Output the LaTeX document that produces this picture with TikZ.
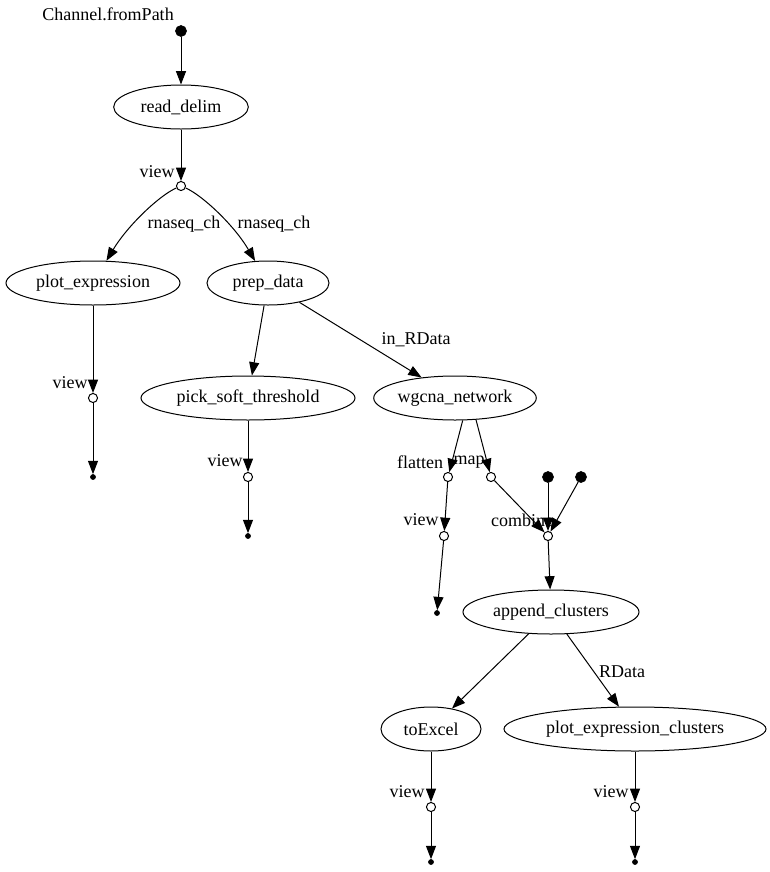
\documentclass[tikz,border=0pt]{standalone}
\usepackage{fontspec}
\setmainfont{Liberation Serif}
\usetikzlibrary{arrows.meta,positioning,shapes.geometric}

\begin{document}
\begin{tikzpicture}[
  x=0.75pt, y=-0.75pt, line width=0.75pt,
  proc/.style={draw, ellipse, inner sep=0pt, minimum height=33pt,
               font=\fontsize{13.5}{16}\selectfont},
  op/.style={draw, circle, fill=white, inner sep=0pt, minimum size=6.8pt},
  src/.style={draw, circle, fill=black, inner sep=0pt, minimum size=8pt},
  sink/.style={draw, circle, fill=black, inner sep=0pt, minimum size=3.5pt},
  lbl/.style={inner sep=0pt, font=\fontsize{13.5}{16}\selectfont},
  arrow/.style={-{Triangle[length=10pt, width=7.5pt]}}
]
  \useasboundingbox (0,0) rectangle (770,872);

  % processes
  \node[src] (fromPath) at (181,31) {};
  \node[proc, minimum width=101pt] (readDelim) at (181,107) {read\_delim};
  \node[op] (view1) at (181,186) {};
  \node[proc, minimum width=130.5pt] (plotExpr) at (93,283) {plot\_expression};
  \node[proc, minimum width=91.5pt] (prepData) at (268,283) {prep\_data};
  \node[op] (view2) at (93,398) {};
  \node[sink] (end2) at (93,477) {};
  \node[proc, minimum width=160.5pt] (pickSoft) at (248,398) {pick\_soft\_threshold};
  \node[op] (view3) at (248,477) {};
  \node[sink] (end3) at (248,536) {};
  \node[proc, minimum width=114pt] (wgcna) at (455,398) {wgcna\_network};
  \node[op] (flatten) at (448,477) {};
  \node[op] (map) at (491,477) {};
  \node[src] (srcA) at (548,477) {};
  \node[src] (srcB) at (581,477) {};
  \node[op] (view4) at (444,536) {};
  \node[sink] (end4) at (437,613) {};
  \node[op] (combine) at (548,536) {};
  \node[proc, minimum width=132pt] (appendCl) at (551,612) {append\_clusters};
  \node[proc, minimum width=75pt] (toExcel) at (431,729) {toExcel};
  \node[proc, minimum width=196.5pt] (plotClusters) at (635,729) {plot\_expression\_clusters};
  \node[op] (view5) at (431,807) {};
  \node[sink] (end5) at (431,862) {};
  \node[op] (view6) at (635,807) {};
  \node[sink] (end6) at (635,862) {};

  % labels
  \node[lbl] (lFromPath) at (108,14) {Channel.fromPath};
  \node[lbl] (lView1) at (157,172) {view};
  \node[lbl] (lRnaA) at (184,224) {rnaseq\_ch};
  \node[lbl] (lRnaB) at (274,224) {rnaseq\_ch};
  \node[lbl] (lView2) at (70,383) {view};
  \node[lbl] (lInRData) at (416,340) {in\_RData};
  \node[lbl] (lView3) at (225,461) {view};
  \node[lbl] (lFlatten) at (420,462) {flatten};
  \node[lbl] (lMap) at (469,462) {map};
  \node[lbl] (lView4) at (421,520) {view};
  \node[lbl] (lCombine) at (522,520) {combine};
  \node[lbl] (lRData) at (622,672) {RData};
  \node[lbl] (lView5) at (407,792) {view};
  \node[lbl] (lView6) at (611,792) {view};

  % edges
  \draw[arrow] (fromPath) -- (readDelim);
  \draw[arrow] (readDelim) -- (view1);
  \draw[arrow] (view1) .. controls (160,195) and (128,225) .. (plotExpr);
  \draw[arrow] (view1) .. controls (202,195) and (234,225) .. (prepData);
  \draw[arrow] (plotExpr) -- (view2);
  \draw[arrow] (view2) -- (end2);
  \draw[arrow] (prepData) -- (pickSoft);
  \draw[arrow] (prepData) -- (wgcna);
  \draw[arrow] (pickSoft) -- (view3);
  \draw[arrow] (view3) -- (end3);
  \draw[arrow] (wgcna.-71) -- (flatten);
  \draw[arrow] (wgcna.-46) -- (map);
  \draw[arrow] (flatten) -- (view4);
  \draw[arrow] (view4) -- (end4);
  \draw[arrow] (map) -- (combine);
  \draw[arrow] (srcA) -- (combine);
  \draw[arrow] (srcB) -- (combine);
  \draw[arrow] (combine) -- (appendCl);
  \draw[arrow] (appendCl) -- (toExcel);
  \draw[arrow] (appendCl) -- (plotClusters);
  \draw[arrow] (toExcel) -- (view5);
  \draw[arrow] (view5) -- (end5);
  \draw[arrow] (plotClusters) -- (view6);
  \draw[arrow] (view6) -- (end6);
\end{tikzpicture}
\end{document}
